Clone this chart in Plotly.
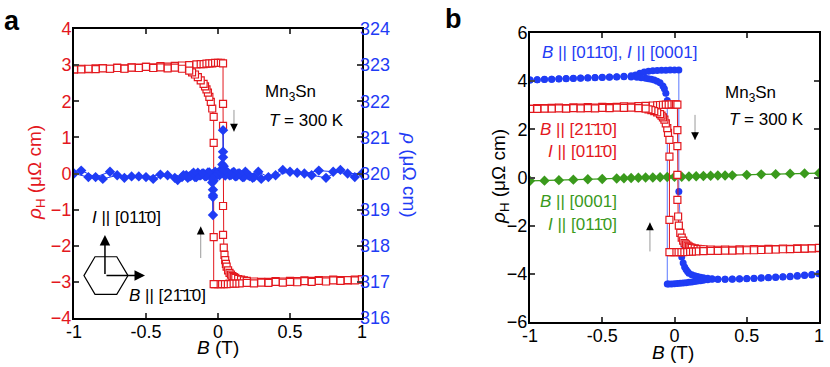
import plotly.graph_objects as go

RED = "#e3181e"
BLUE = "#1f3cf5"
GREEN = "#3a9a1c"
FONT = "Liberation Sans, Arial, sans-serif"

# -------------------------
# Panel a: Hall (red, left axis) and longitudinal (blue, right axis)
# -------------------------
a_up_B = [-1.0, -0.95, -0.9, -0.85, -0.8, -0.75, -0.7, -0.65, -0.6, -0.55, -0.5, -0.45, -0.4, -0.35, -0.3, -0.25, -0.2,
          -0.15, -0.12, -0.1, -0.08, -0.06, -0.04, -0.02, 0.0, 0.02,
          0.035, 0.035, 0.035, 0.035, 0.035,
          0.04, 0.045, 0.05, 0.055, 0.06, 0.07, 0.08, 0.09, 0.1, 0.11, 0.12, 0.14, 0.16, 0.18, 0.2,
          0.25, 0.3, 0.35, 0.4, 0.45, 0.5, 0.55, 0.6, 0.65, 0.7, 0.75, 0.8, 0.85, 0.9, 0.95, 1.0]
a_up_rhoH = [2.88, 2.9, 2.89, 2.91, 2.92, 2.9, 2.93, 2.91, 2.94, 2.93, 2.95, 2.94, 2.97, 2.96, 2.98, 2.99, 3.0,
             3.02, 3.03, 3.03, 3.04, 3.05, 3.05, 3.06, 3.06, 3.06,
             3.05, 1.93, 1.32, -0.9, -1.7,
             -2.05, -2.25, -2.4, -2.5, -2.58, -2.68, -2.75, -2.8, -2.84, -2.87, -2.89, -2.92, -2.94, -2.96, -2.97,
             -2.99, -3.0, -3.0, -2.98, -2.99, -2.97, -2.98, -2.96, -2.97, -2.95, -2.96, -2.94, -2.95, -2.96, -2.94, -2.94]

a_dn_B = [1.0, 0.95, 0.9, 0.85, 0.8, 0.75, 0.7, 0.65, 0.6, 0.55, 0.5, 0.45, 0.4, 0.35, 0.3, 0.25,
          0.2, 0.15, 0.12, 0.1, 0.08, 0.06, 0.04, 0.02, 0.0, -0.02, -0.03,
          -0.03, -0.03, -0.03,
          -0.04, -0.05, -0.06, -0.07, -0.08, -0.09, -0.1, -0.12, -0.14, -0.16, -0.18, -0.2,
          -0.25, -0.3, -0.35, -0.4, -0.45, -0.5, -0.55, -0.6, -0.65, -0.7, -0.75, -0.8, -0.85, -0.9, -0.95, -1.0]
a_dn_rhoH = [-2.93, -2.96, -2.95, -2.97, -2.96, -2.99, -2.97, -3.0, -2.98, -3.01, -3.0, -3.02, -3.0, -3.03, -3.02, -3.04,
             -3.03, -3.04, -3.05, -3.05, -3.05, -3.06, -3.06, -3.06, -3.06, -3.06, -3.06,
             -1.76, 0.85, 1.57,
             1.8, 1.98, 2.12, 2.24, 2.33, 2.41, 2.48, 2.58, 2.67, 2.74, 2.8, 2.85,
             2.9, 2.93, 2.91, 2.94, 2.92, 2.95, 2.92, 2.93, 2.9, 2.92, 2.9, 2.91, 2.89, 2.9, 2.88, 2.88]

a_rho_up_B = [-1.0, -0.9, -0.8, -0.7, -0.6, -0.5, -0.4, -0.3,
              -0.25, -0.22, -0.2, -0.18, -0.16, -0.14, -0.12, -0.1, -0.08, -0.06, -0.04, -0.02, 0.0, 0.02, 0.03,
              0.035, 0.035, 0.035,
              0.04, 0.06, 0.08, 0.1, 0.12, 0.14, 0.16, 0.18, 0.2, 0.22, 0.25,
              0.3, 0.4, 0.5, 0.6, 0.7, 0.8, 0.9, 1.0]
a_rho_up = [320.0, 319.9, 319.85, 319.95, 319.92, 319.9, 319.97, 319.88,
            319.9, 319.95, 319.92, 319.98, 319.9, 320.02, 319.95, 320.0, 319.93, 320.03, 319.98, 320.05, 320.02, 320.1, 320.25,
            320.6, 321.2, 320.45,
            320.2, 320.05, 319.95, 320.02, 319.92, 320.0, 319.95, 319.9, 320.0, 319.93, 319.9,
            319.85, 319.95, 320.05, 320.0, 320.08, 320.05, 320.0, 320.0]

a_rho_dn_B = [0.95, 0.85, 0.75, 0.65, 0.55, 0.45, 0.35,
              0.28, 0.24, 0.21, 0.19, 0.17, 0.15, 0.13, 0.11, 0.09, 0.07, 0.05, 0.03, 0.01, -0.01, -0.02, -0.03,
              -0.035, -0.035, -0.035, -0.035,
              -0.04, -0.05, -0.07, -0.09, -0.11, -0.13, -0.15, -0.17, -0.19, -0.21, -0.24, -0.28,
              -0.35, -0.45, -0.55, -0.65, -0.75, -0.85, -0.95]
a_rho_dn = [319.9, 320.1, 319.88, 319.95, 320.02, 320.1, 319.9,
            320.05, 319.88, 319.95, 320.05, 319.9, 320.0, 319.93, 320.04, 319.96, 320.02, 319.94, 320.05, 319.95, 319.98, 319.9, 319.8,
            319.55, 319.4, 318.85, 319.35,
            319.75, 319.9, 320.03, 319.92, 320.0, 319.95, 319.9, 320.02, 319.93, 319.88, 319.95, 319.82,
            319.95, 319.85, 319.92, 319.88, 320.05, 319.9, 320.08]

# -------------------------
# Panel b: Hall resistivity for three field/current geometries
# -------------------------
b_red_up_B = [-1.0, -0.95, -0.9, -0.85, -0.8, -0.75, -0.7, -0.65, -0.6, -0.55, -0.5, -0.45, -0.4, -0.35, -0.3, -0.25, -0.2,
              -0.15, -0.12, -0.1, -0.08, -0.06, -0.04, -0.02, 0.0, 0.01,
              0.02, 0.02, 0.02, 0.02, 0.02,
              0.025, 0.03, 0.04, 0.05, 0.06, 0.07, 0.08, 0.09, 0.1, 0.11, 0.12, 0.14, 0.16, 0.18, 0.2,
              0.25, 0.3, 0.35, 0.4, 0.45, 0.5, 0.55, 0.6, 0.65, 0.7, 0.75, 0.8, 0.85, 0.9, 0.95, 1.0]
b_red_up = [2.85, 2.88, 2.88, 2.89, 2.9, 2.88, 2.91, 2.9, 2.92, 2.9, 2.93, 2.92, 2.93, 2.95, 2.94, 2.96, 2.97,
            2.99, 3.0, 3.01, 3.02, 3.03, 3.03, 3.04, 3.04, 3.04,
            3.03, 1.97, 1.3, 0.11, -0.93,
            -1.62, -2.0, -2.3, -2.5, -2.62, -2.72, -2.78, -2.83, -2.87, -2.9, -2.92, -2.94, -2.96, -2.97, -2.98,
            -2.99, -3.0, -2.99, -3.0, -2.98, -2.99, -2.97, -2.98, -2.96, -2.97, -2.95, -2.96, -2.94, -2.95, -2.93, -2.93]

b_red_dn_B = [1.0, 0.95, 0.9, 0.85, 0.8, 0.75, 0.7, 0.65, 0.6, 0.55, 0.5, 0.45, 0.4, 0.35, 0.3, 0.25,
              0.2, 0.15, 0.12, 0.1, 0.08, 0.06, 0.04, 0.02, 0.0, -0.02, -0.035,
              -0.035, -0.035, -0.035,
              -0.045, -0.05, -0.06, -0.07, -0.08, -0.09, -0.1, -0.12, -0.14, -0.16, -0.18, -0.2,
              -0.25, -0.3, -0.35, -0.4, -0.45, -0.5, -0.55, -0.6, -0.65, -0.7, -0.75, -0.8, -0.85, -0.9, -0.95, -1.0]
b_red_dn = [-2.92, -2.94, -2.95, -2.96, -2.97, -2.98, -2.99, -3.0, -3.01, -3.02, -3.02, -3.03, -3.04, -3.04, -3.05, -3.05,
            -3.06, -3.07, -3.08, -3.08, -3.09, -3.1, -3.1, -3.1, -3.1, -3.1, -3.1,
            -1.76, 0.87, 1.56,
            1.85, 2.05, 2.25, 2.4, 2.5, 2.57, 2.63, 2.7, 2.76, 2.8, 2.83, 2.86,
            2.88, 2.9, 2.89, 2.9, 2.88, 2.89, 2.87, 2.88, 2.87, 2.88, 2.86, 2.87, 2.86, 2.86, 2.85, 2.85]

b_blue_up_B = [-1.0, -0.95, -0.9, -0.85, -0.8, -0.75, -0.7, -0.65, -0.6, -0.55, -0.5, -0.45, -0.4, -0.35, -0.3,
               -0.27, -0.24, -0.21, -0.18, -0.15, -0.12, -0.09, -0.06, -0.03, 0.0, 0.03,
               0.03, 0.05, 0.06, 0.07, 0.08, 0.09, 0.1, 0.12, 0.14, 0.16, 0.18, 0.2, 0.23, 0.26,
               0.3, 0.35, 0.4, 0.45, 0.5, 0.55, 0.6, 0.65, 0.7, 0.75, 0.8, 0.85, 0.9, 0.95, 1.0]
b_blue_up = [4.05, 4.06, 4.08, 4.08, 4.1, 4.11, 4.12, 4.13, 4.14, 4.15, 4.16, 4.17, 4.18, 4.2, 4.22,
             4.26, 4.33, 4.38, 4.41, 4.43, 4.44, 4.45, 4.45, 4.46, 4.46, 4.46,
             -0.58, -3.3, -3.55, -3.72, -3.82, -3.9, -3.98, -4.04, -4.08, -4.11, -4.14, -4.16, -4.18, -4.2,
             -4.22, -4.23, -4.22, -4.21, -4.2, -4.19, -4.18, -4.16, -4.15, -4.13, -4.12, -4.1, -4.07, -4.05, -4.0]

b_blue_dn_B = [1.0, 0.95, 0.9, 0.85, 0.8, 0.75, 0.7, 0.65, 0.6, 0.55, 0.5, 0.45, 0.4, 0.35, 0.3,
               0.26, 0.23, 0.2, 0.18, 0.16, 0.14, 0.12, 0.1, 0.08, 0.06, 0.04, 0.02, 0.0, -0.02, -0.04, -0.05,
               -0.05, -0.06, -0.07, -0.08, -0.1, -0.12, -0.14, -0.16, -0.18, -0.2, -0.23, -0.26, -0.3,
               -0.35, -0.4, -0.45, -0.5, -0.55, -0.6, -0.65, -0.7, -0.75, -0.8, -0.85, -0.9, -0.95, -1.0]
b_blue_dn = [-4.0, -4.03, -4.05, -4.07, -4.1, -4.12, -4.13, -4.15, -4.16, -4.18, -4.19, -4.2, -4.21, -4.22, -4.22,
             -4.23, -4.25, -4.27, -4.29, -4.3, -4.32, -4.34, -4.35, -4.37, -4.38, -4.39, -4.4, -4.41, -4.42, -4.42, -4.42,
             3.2, 3.5, 3.68, 3.8, 3.93, 4.0, 4.05, 4.08, 4.1, 4.12, 4.14, 4.16, 4.17,
             4.18, 4.17, 4.16, 4.15, 4.14, 4.13, 4.12, 4.11, 4.1, 4.09, 4.08, 4.07, 4.06, 4.05]

b_green_B = [-1.0, -0.9, -0.8, -0.7, -0.6, -0.5, -0.4, -0.35, -0.3, -0.25, -0.2, -0.15, -0.1, -0.05, 0.0,
             0.05, 0.1, 0.15, 0.2, 0.25, 0.3, 0.35, 0.4, 0.5, 0.6, 0.7, 0.8, 0.9, 1.0]
b_green = [-0.14, -0.13, -0.11, -0.09, -0.07, -0.06, -0.04, -0.03, -0.02, -0.01, 0.0, 0.0, 0.01, 0.02, 0.03,
           0.03, 0.04, 0.05, 0.06, 0.07, 0.08, 0.08, 0.09, 0.11, 0.13, 0.14, 0.16, 0.17, 0.18]

x_ticks = [-1, -0.5, 0, 0.5, 1]
x_ticklabels = ["-1", "-0.5", "0", "0.5", "1"]

fig = go.Figure()


def square_trace(x, y, xa, ya):
    return go.Scatter(x=x, y=y, xaxis=xa, yaxis=ya, mode="lines+markers",
                      line=dict(color=RED, width=1),
                      marker=dict(symbol="square", size=7, color="white", line=dict(color=RED, width=1.2)),
                      showlegend=False)


fig.add_trace(square_trace(a_up_B, a_up_rhoH, "x", "y"))
fig.add_trace(square_trace(a_dn_B, a_dn_rhoH, "x", "y"))
for bx, by in [(a_rho_up_B, a_rho_up), (a_rho_dn_B, a_rho_dn)]:
    fig.add_trace(go.Scatter(x=bx, y=by, xaxis="x", yaxis="y2", mode="lines+markers",
                             line=dict(color=BLUE, width=1),
                             marker=dict(symbol="diamond", size=8, color=BLUE),
                             showlegend=False))

for bx, by in [(b_blue_up_B, b_blue_up), (b_blue_dn_B, b_blue_dn)]:
    fig.add_trace(go.Scatter(x=bx, y=by, xaxis="x2", yaxis="y3", mode="lines+markers",
                             line=dict(color="#5a78ff", width=1),
                             marker=dict(symbol="circle", size=7, color=BLUE),
                             showlegend=False))
fig.add_trace(go.Scatter(x=b_green_B, y=b_green, xaxis="x2", yaxis="y3", mode="lines+markers",
                         line=dict(color=GREEN, width=1.2),
                         marker=dict(symbol="diamond", size=8, color=GREEN),
                         showlegend=False))
fig.add_trace(square_trace(b_red_up_B, b_red_up, "x2", "y3"))
fig.add_trace(square_trace(b_red_dn_B, b_red_dn, "x2", "y3"))

tickfont = dict(family=FONT, size=18, color="black")
common_x = dict(range=[-1, 1], tickvals=x_ticks, ticktext=x_ticklabels, ticks="inside", ticklen=5, tickwidth=1.5,
                showline=True, linecolor="black", linewidth=2, mirror="ticks", showgrid=False, zeroline=False,
                tickfont=tickfont, automargin=False, ticklabelstandoff=-4)
common_y = dict(ticks="inside", ticklen=5, tickwidth=1.5, showline=True, linecolor="black", linewidth=2,
                showgrid=False, zeroline=False, automargin=False, ticklabelstandoff=-3)

fig.update_layout(
    template="none",
    width=830, height=367,
    margin=dict(l=0, r=0, t=0, b=0),
    paper_bgcolor="white", plot_bgcolor="white",
    font=dict(family=FONT, size=17),
    xaxis=dict(domain=[74 / 830, 362 / 830], anchor="y", **common_x),
    yaxis=dict(domain=[1 - 318 / 367, 1 - 29 / 367], anchor="x", range=[-4, 4], dtick=1, mirror="ticks",
               tickfont=dict(family=FONT, size=18, color=RED), **common_y),
    yaxis2=dict(overlaying="y", side="right", anchor="x", range=[316, 324], dtick=1, ticks="", showline=False,
                showgrid=False, zeroline=False, automargin=False, ticklabelstandoff=-3,
                tickfont=dict(family=FONT, size=18, color=BLUE)),
    xaxis2=dict(domain=[530 / 830, 819 / 830], anchor="y3", **common_x),
    yaxis3=dict(domain=[1 - 322 / 367, 1 - 33 / 367], anchor="x2", range=[-6, 6], dtick=2, mirror="ticks",
                tickfont=tickfont, **common_y),
)

ann = []


def txt(text, x, y, xref, yref, color="black", size=17, xanchor="left", angle=0):
    ann.append(dict(text=text, x=x, y=y, xref=xref, yref=yref, showarrow=False, xanchor=xanchor,
                    yanchor="middle", textangle=angle, font=dict(family=FONT, size=size, color=color)))


OL = "\u0304"
# panel letters
txt("<b>a</b>", 2 / 830, 1 - 21 / 367, "paper", "paper", size=27)
txt("<b>b</b>", 443 / 830, 1 - 19 / 367, "paper", "paper", size=27)
# axis titles
txt("<i>B</i> (T)", 218 / 830, 1 - 347 / 367, "paper", "paper", size=19, xanchor="center")
txt("<i>B</i> (T)", 673 / 830, 1 - 352 / 367, "paper", "paper", size=19, xanchor="center")
txt("<i>ρ</i><sub>H</sub> (μΩ cm)", 36 / 830, 1 - 173 / 367, "paper", "paper", color=RED, size=19,
    xanchor="center", angle=-90)
txt("<i>ρ</i> (μΩ cm)", 410 / 830, 1 - 175 / 367, "paper", "paper", color=BLUE, size=19,
    xanchor="center", angle=90)
txt("<i>ρ</i><sub>H</sub> (μΩ cm)", 500 / 830, 1 - 177 / 367, "paper", "paper", size=19,
    xanchor="center", angle=-90)
# panel a labels
txt("Mn<sub>3</sub>Sn", 0.31, 2.23, "x", "y")
txt("<i>T</i> = 300 K", 0.34, 1.48, "x", "y")
txt("<i>I</i> || [01" + "1" + OL + "0]", -0.89, -1.23, "x", "y")
txt("<i>B</i> || [2" + "1" + OL + "1" + OL + "0]", -0.63, -3.37, "x", "y")
# panel b labels
txt("<i>B</i> || [01" + "1" + OL + "0], <i>I</i> || [0001]", -0.93, 5.17, "x2", "y3", color=BLUE)
txt("Mn<sub>3</sub>Sn", 0.336, 3.47, "x2", "y3")
txt("<i>T</i> = 300 K", 0.363, 2.39, "x2", "y3")
txt("<i>B</i> || [2" + "1" + OL + "1" + OL + "0]", -0.384, 1.98, "x2", "y3", color=RED, xanchor="right")
txt("<i>I</i> || [01" + "1" + OL + "0]", -0.384, 1.06, "x2", "y3", color=RED, xanchor="right")
txt("<i>B</i> || [0001]", -0.384, -1.01, "x2", "y3", color=GREEN, xanchor="right")
txt("<i>I</i> || [01" + "1" + OL + "0]", -0.384, -1.97, "x2", "y3", color=GREEN, xanchor="right")

shapes = []


def sweep_arrow(x, y0, y1, xref, yref):
    # grey shaft with a black head at (x, y1)
    shapes.append(dict(type="line", x0=x, x1=x, y0=y0, y1=y1, xref=xref, yref=yref,
                       line=dict(color="#9a9a9a", width=1)))
    d = -9 if y1 < y0 else 9
    ann.append(dict(x=x, y=y1, xref=xref, yref=yref, ax=0, ay=d, showarrow=True, text="",
                    arrowhead=2, arrowsize=1.3, arrowwidth=1.2, arrowcolor="black"))


sweep_arrow(0.111, 1.76, 1.16, "x", "y")
sweep_arrow(-0.12, -2.34, -1.47, "x", "y")
sweep_arrow(0.142, 2.6, 1.56, "x2", "y3")
sweep_arrow(-0.17, -3.07, -1.87, "x2", "y3")

# hexagon sketch of crystal axes (panel a)
shapes.append(dict(type="path", xref="x", yref="y",
                   path="M -0.931 -2.826 L -0.854 -2.305 L -0.703 -2.305 L -0.625 -2.826 "
                        "L -0.703 -3.346 L -0.854 -3.346 Z",
                   line=dict(color="black", width=1.2)))
ann.append(dict(x=-0.785, y=-1.70, ax=-0.785, ay=-2.826, xref="x", yref="y", axref="x", ayref="y",
                showarrow=True, text="", arrowhead=2, arrowsize=1.4, arrowwidth=1.5, arrowcolor="black"))
ann.append(dict(x=-0.507, y=-2.826, ax=-0.785, ay=-2.826, xref="x", yref="y", axref="x", ayref="y",
                showarrow=True, text="", arrowhead=2, arrowsize=1.4, arrowwidth=1.5, arrowcolor="black"))

fig.update_layout(annotations=ann, shapes=shapes)
fig.write_html("out.html", config={"displayModeBar": False},
               post_script="document.body.style.margin='0';")
